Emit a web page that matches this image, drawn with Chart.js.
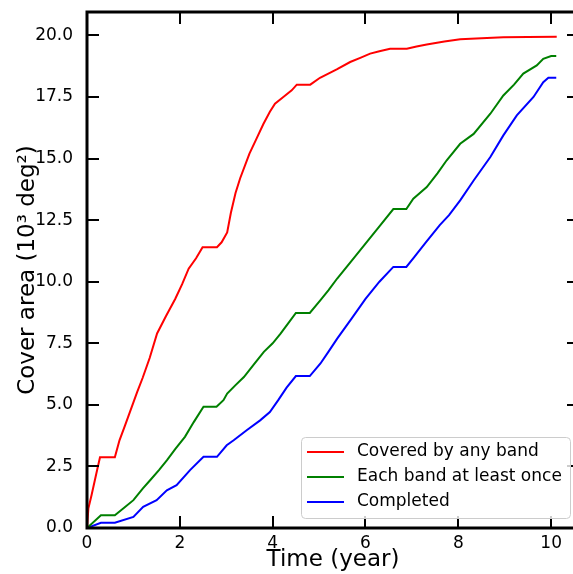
<!DOCTYPE html>
<html>
<head>
<meta charset="utf-8">
<script src="https://cdn.jsdelivr.net/npm/chart.js@4"></script>
<style>
  html, body { margin:0; padding:0; background:#fff; overflow:hidden; width:573px; height:574px; }
  #wrap { position:absolute; left:0; top:0; width:590px; height:574px; }
</style>
</head>
<body>
<div id="wrap"><canvas id="cover" width="590" height="574"></canvas></div>
<script>
// ---- data ----
const seriesLabels = ["Covered by any band", "Each band at least once", "Completed"];
const seriesColors = ["#ff0000", "#008000", "#0000ff"];

const redT  = [0, 0.03, 0.1, 0.2, 0.28, 0.6, 0.7, 0.82, 1.0, 1.08, 1.2, 1.35, 1.51, 1.7, 1.9, 2.05, 2.19, 2.35, 2.49, 2.8, 2.9, 3.02, 3.1, 3.2, 3.3, 3.5, 3.65, 3.8, 3.94, 4.05, 4.23, 4.41, 4.52, 4.81, 5.02, 5.2, 5.38, 5.67, 5.9, 6.1, 6.3, 6.53, 6.89, 7.1, 7.32, 7.7, 8.04, 8.5, 8.97, 9.5, 10.12];
const redY  = [0, 0.8, 1.35, 2.2, 2.87, 2.87, 3.56, 4.17, 5.1, 5.52, 6.1, 6.9, 7.9, 8.6, 9.3, 9.9, 10.53, 10.95, 11.4, 11.4, 11.6, 12.0, 12.8, 13.6, 14.2, 15.2, 15.8, 16.4, 16.9, 17.23, 17.5, 17.77, 18.0, 18.0, 18.28, 18.45, 18.62, 18.92, 19.1, 19.26, 19.36, 19.46, 19.46, 19.55, 19.63, 19.75, 19.84, 19.88, 19.92, 19.94, 19.95];

const greenT = [0, 0.3, 0.6, 0.8, 1.0, 1.2, 1.36, 1.55, 1.72, 1.9, 2.11, 2.3, 2.51, 2.79, 2.94, 3.02, 3.2, 3.38, 3.6, 3.81, 4.0, 4.17, 4.35, 4.5, 4.8, 5.03, 5.2, 5.39, 5.7, 6.0, 6.3, 6.6, 6.88, 7.03, 7.32, 7.55, 7.75, 8.04, 8.33, 8.69, 8.97, 9.2, 9.4, 9.69, 9.83, 10.0, 10.11];
const greenY = [0, 0.52, 0.52, 0.82, 1.13, 1.6, 1.94, 2.35, 2.75, 3.2, 3.7, 4.3, 4.92, 4.92, 5.19, 5.46, 5.8, 6.13, 6.65, 7.15, 7.5, 7.89, 8.35, 8.73, 8.73, 9.25, 9.65, 10.13, 10.85, 11.55, 12.25, 12.95, 12.95, 13.37, 13.84, 14.4, 14.93, 15.6, 16.0, 16.82, 17.56, 18.0, 18.45, 18.78, 19.05, 19.16, 19.16];

const blueT = [0, 0.3, 0.6, 1.0, 1.21, 1.5, 1.72, 1.93, 2.22, 2.51, 2.8, 3.01, 3.16, 3.44, 3.73, 3.94, 4.12, 4.3, 4.5, 4.8, 5.03, 5.2, 5.39, 5.7, 6.0, 6.3, 6.6, 6.88, 7.05, 7.3, 7.6, 7.8, 8.04, 8.33, 8.69, 8.97, 9.26, 9.62, 9.83, 9.94, 10.11];
const blueY = [0, 0.21, 0.21, 0.45, 0.86, 1.13, 1.53, 1.74, 2.35, 2.89, 2.89, 3.36, 3.56, 3.97, 4.37, 4.71, 5.19, 5.7, 6.17, 6.17, 6.68, 7.15, 7.69, 8.5, 9.3, 10.0, 10.6, 10.6, 11.0, 11.6, 12.3, 12.7, 13.3, 14.11, 15.06, 15.94, 16.75, 17.5, 18.1, 18.28, 18.28];

const xTicks = [0, 2, 4, 6, 8, 10];
const yTicks = [0, 2.5, 5, 7.5, 10, 12.5, 15, 17.5, 20];

const FONT = "'DejaVu Sans', sans-serif";

const pts = (t, v) => t.map((x, i) => ({ x, y: v[i] }));

// frame + inward ticks on all four sides (matplotlib style)
const framePlugin = {
  id: "frame",
  afterDraw(chart) {
    const { ctx, chartArea: a, scales } = chart;
    ctx.save();
    ctx.strokeStyle = "#000";
    ctx.lineWidth = 2;
    const len = 12;
    xTicks.forEach(v => {
      const x = Math.round(scales.x.getPixelForValue(v));
      ctx.beginPath();
      ctx.moveTo(x, a.bottom); ctx.lineTo(x, a.bottom - len);
      ctx.moveTo(x, a.top); ctx.lineTo(x, a.top + len);
      ctx.stroke();
    });
    yTicks.forEach(v => {
      const y = Math.round(scales.y.getPixelForValue(v));
      ctx.beginPath();
      ctx.moveTo(a.left, y); ctx.lineTo(a.left + len, y);
      ctx.moveTo(a.right, y); ctx.lineTo(a.right - len, y);
      ctx.stroke();
    });
    ctx.lineWidth = 3;
    ctx.strokeRect(a.left, a.top, a.right - a.left, a.bottom - a.top);

    // legend box in lower right
    const bx = 301, by = 437, bw = 269, bh = 81;
    ctx.fillStyle = "rgba(255,255,255,0.8)";
    ctx.strokeStyle = "#cccccc";
    ctx.lineWidth = 1;
    ctx.beginPath();
    ctx.roundRect(bx + 0.5, by + 0.5, bw, bh, 4);
    ctx.fill(); ctx.stroke();
    ctx.font = "17px " + FONT;
    ctx.textBaseline = "middle";
    ctx.textAlign = "left";
    chart.data.datasets.forEach((ds, i) => {
      const y = by + 15 + i * 25;
      ctx.strokeStyle = ds.borderColor;
      ctx.lineWidth = 2;
      ctx.beginPath();
      ctx.moveTo(bx + 6, y); ctx.lineTo(bx + 43, y);
      ctx.stroke();
      ctx.fillStyle = "#000";
      ctx.fillText(ds.label, bx + 56, y);
    });
    ctx.restore();
  }
};

new Chart(document.getElementById("cover"), {
  type: "line",
  data: {
    datasets: [
      { label: seriesLabels[0], data: pts(redT, redY), borderColor: seriesColors[0] },
      { label: seriesLabels[1], data: pts(greenT, greenY), borderColor: seriesColors[1] },
      { label: seriesLabels[2], data: pts(blueT, blueY), borderColor: seriesColors[2] }
    ]
  },
  options: {
    responsive: false,
    animation: false,
    layout: { padding: { top: 12, right: 11, left: 0, bottom: 0 } },
    elements: {
      point: { radius: 0 },
      line: { borderWidth: 2, tension: 0, fill: false }
    },
    plugins: { legend: { display: false }, tooltip: { enabled: false } },
    scales: {
      x: {
        type: "linear",
        min: 0, max: 10.6,
        grid: { display: false },
        border: { display: false },
        afterFit: s => { s.height = 46; s.paddingLeft = 0; s.paddingRight = 0; },
        ticks: {
          stepSize: 2, includeBounds: false, maxRotation: 0,
          color: "#000", font: { family: FONT, size: 17 }, padding: -3,
          callback: v => v.toString()
        },
        title: { display: true, text: "Time (year)", color: "#000", font: { family: FONT, size: 23 }, padding: { top: 5, bottom: 0 } }
      },
      y: {
        type: "linear",
        min: 0, max: 20.95,
        grid: { display: false },
        border: { display: false },
        afterFit: s => { s.width = 87; s.paddingTop = 0; s.paddingBottom = 0; },
        ticks: {
          stepSize: 2.5, includeBounds: false,
          color: "#000", font: { family: FONT, size: 17 }, padding: 6,
          callback: v => v.toFixed(1)
        },
        title: { display: true, text: "Cover area (10³ deg²)", color: "#000", font: { family: FONT, size: 23 }, padding: { top: 14, bottom: 4 } }
      }
    }
  },
  plugins: [framePlugin]
});
</script>
</body>
</html>
